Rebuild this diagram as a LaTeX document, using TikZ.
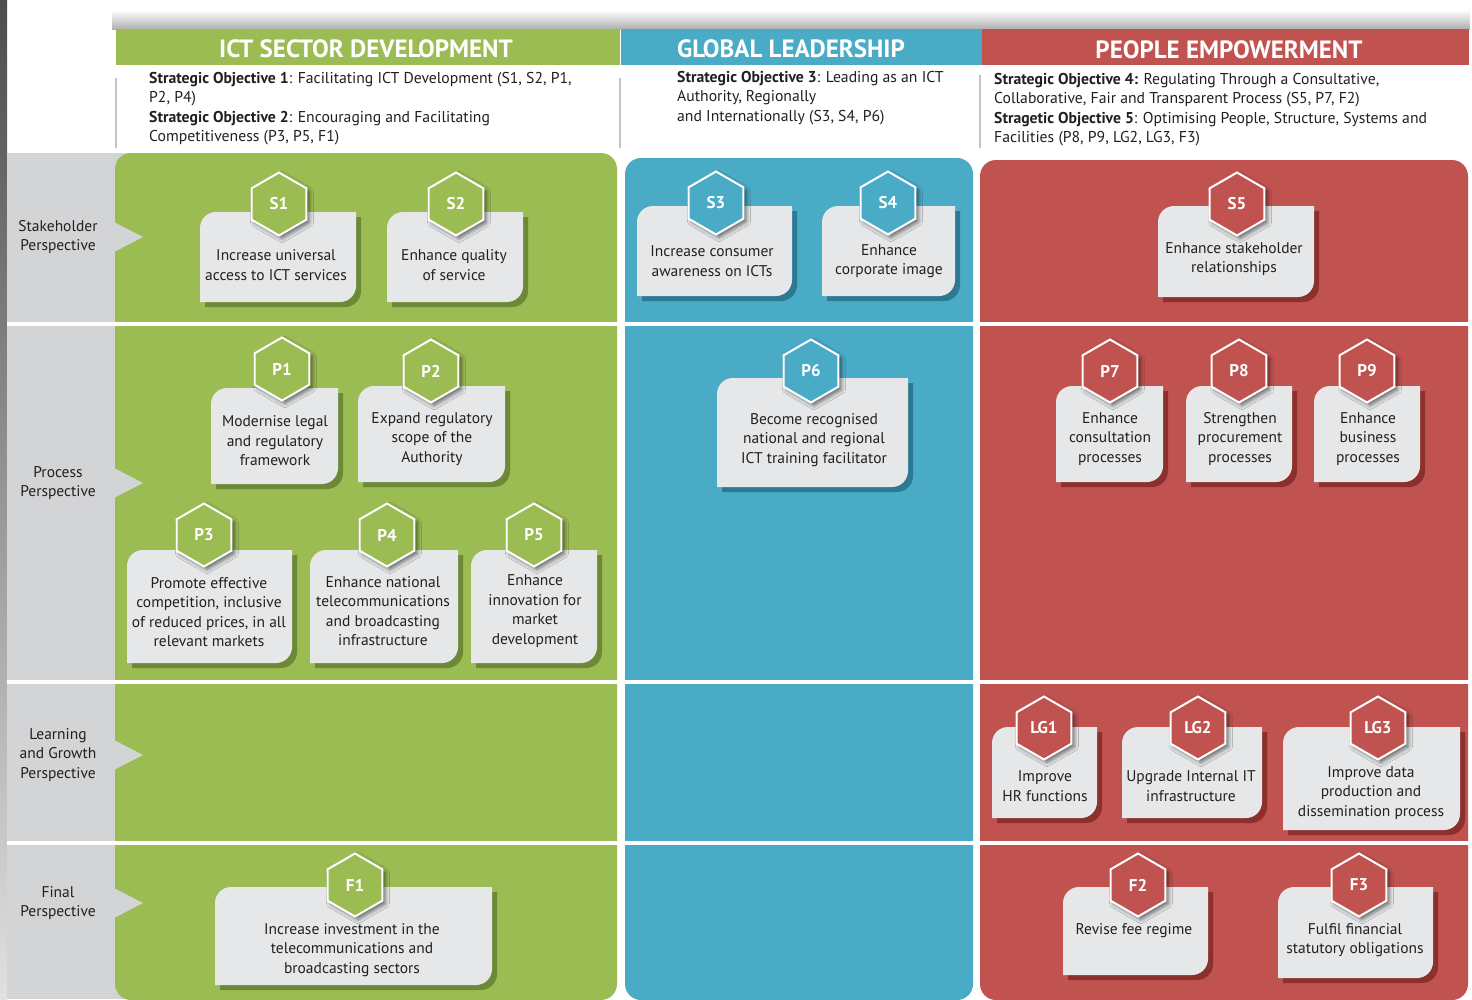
\documentclass[tikz,border=0pt]{standalone}
\usepackage{fontspec}
\setmainfont{PT Sans}
\usetikzlibrary{shapes.geometric,shadows.blur}

\definecolor{ictgreen}{RGB}{155,187,83}
\definecolor{ictgreendk}{RGB}{108,138,54}
\definecolor{glblue}{RGB}{74,171,198}
\definecolor{glbluedk}{RGB}{44,122,146}
\definecolor{pered}{RGB}{192,82,80}
\definecolor{pereddk}{RGB}{140,48,46}
\definecolor{sidegray}{RGB}{211,212,214}
\definecolor{cardgray}{RGB}{230,231,232}
\definecolor{ink}{RGB}{35,31,32}
\definecolor{rulegray}{RGB}{195,195,195}

% card with rounded top-left and bottom-right corners, plus a solid offset shadow
\newcommand{\cardbox}[5]{%
  \fill[#5] (#1+5,#4+5) -- (#1+5,#2+21) arc[start angle=180,end angle=90,radius=16pt]
    -- (#3+5,#2+5) -- (#3+5,#4-11) arc[start angle=0,end angle=-90,radius=16pt] -- cycle;
  \fill[cardgray] (#1,#4) -- (#1,#2+16) arc[start angle=180,end angle=90,radius=16pt]
    -- (#3,#2) -- (#3,#4-16) arc[start angle=0,end angle=-90,radius=16pt] -- cycle;
}

\tikzset{
  hexbase/.style={regular polygon, regular polygon sides=6, shape border rotate=30,
    minimum size=63pt, inner sep=0pt, draw=white, line width=2pt, text=white,
    font=\bfseries\fontsize{17}{17}\selectfont,
    blur shadow={shadow xshift=3pt, shadow yshift=-3pt, shadow blur radius=4pt, shadow opacity=55}},
  hexg/.style={hexbase, fill=ictgreen},
  hexb/.style={hexbase, fill=glblue},
  hexr/.style={hexbase, fill=pered},
  cardtext/.style={align=center, text=ink, inner sep=0pt, font=\fontsize{15.5}{19.5}\selectfont},
  sidelabel/.style={align=center, text=ink, inner sep=0pt, font=\fontsize{15.5}{19.5}\selectfont},
  objtext/.style={align=left, text=ink, inner sep=0pt, anchor=north west, font=\fontsize{15.7}{19.5}\selectfont},
  headtext/.style={text=white, inner sep=0pt, font=\bfseries\fontsize{25}{25}\selectfont},
  pointer/.style={fill=sidegray},
  objrule/.style={draw=rulegray, line width=1.2pt},
}

\begin{document}
\begin{tikzpicture}[x=1pt,y=-1pt]
\useasboundingbox (0,0) rectangle (1472,999);
\fill[white] (0,0) rectangle (1472,999);

% left edge strip
\shade[top color=black!70, bottom color=black!12] (0,0) rectangle (7,999);

% perspective column
\fill[sidegray] (7,153) rectangle (130,999);

% theme panels
\fill[ictgreen, rounded corners=16pt] (115,153) rectangle (617,1000);
\fill[glblue, rounded corners=16pt] (625,158) rectangle (973,1000);
\fill[pered, rounded corners=16pt] (980,160) rectangle (1468,1000);

% row separators
\fill[white] (7,322) rectangle (1472,326);
\fill[white] (7,680) rectangle (1472,684);
\fill[white] (7,841) rectangle (1472,845);

% pointers from perspective labels
\fill[pointer] (114,222) -- (143,237) -- (114,252) -- cycle;
\fill[pointer] (114,468) -- (143,483) -- (114,498) -- cycle;
\fill[pointer] (114,740) -- (143,755) -- (114,770) -- cycle;
\fill[pointer] (114,888) -- (143,903) -- (114,918) -- cycle;

\node[sidelabel] (stake) at (58,237) {Stakeholder\\Perspective};
\node[sidelabel] (proc) at (58,483) {Process\\Perspective};
\node[sidelabel] (learn) at (58,755) {Learning\\and Growth\\Perspective};
\node[sidelabel] (final) at (58,903) {Final\\Perspective};

% header bars with a soft shadow above them
\shade[top color=white, middle color=black!7, bottom color=black!32] (112,10) rectangle (1470,29.5);
\fill[ictgreen] (116,29) rectangle (620,65);
\fill[glblue] (621,29) rectangle (982,65);
\fill[pered] (982,29) rectangle (1469,65);
\node[headtext] (hict) at (366,49) {ICT SECTOR DEVELOPMENT};
\node[headtext] (hgl) at (791,49) {GLOBAL LEADERSHIP};
\node[headtext] (hpe) at (1229,50) {PEOPLE EMPOWERMENT};

% strategic objectives
\draw[objrule] (116,78) -- (116,148);
\draw[objrule] (620,78) -- (620,148);
\draw[objrule] (980,75) -- (980,148);
\node[objtext] (obj12) at (149,72) {\textbf{Strategic Objective 1}: Facilitating ICT Development (S1, S2, P1,\\P2, P4)\\\textbf{Strategic Objective 2}: Encouraging and Facilitating\\Competitiveness (P3, P5, F1)};
\node[objtext] (obj3) at (677,71) {\textbf{Strategic Objective 3}: Leading as an ICT\\Authority, Regionally\\and Internationally (S3, S4, P6)};
\node[objtext] (obj45) at (994,73) {\textbf{Strategic Objective 4:} Regulating Through a Consultative,\\Collaborative, Fair and Transparent Process (S5, P7, F2)\\\textbf{Stragetic Objective 5}: Optimising People, Structure, Systems and\\Facilities (P8, P9, LG2, LG3, F3)};

% ICT sector development objectives
\cardbox{200}{212}{356}{302}{ictgreendk}
\node[cardtext] (S1text) at (276,265) {Increase universal\\access to ICT services};
\node[hexg] (S1) at (279,204) {S1};

\cardbox{387}{212}{523}{302}{ictgreendk}
\node[cardtext] (S2text) at (454,265) {Enhance quality\\of service};
\node[hexg] (S2) at (456,204) {S2};

\cardbox{211}{388}{338}{484}{ictgreendk}
\node[cardtext] (P1text) at (275,441) {Modernise legal\\and regulatory\\framework};
\node[hexg] (P1) at (282,369) {P1};

\cardbox{358}{386}{505}{482}{ictgreendk}
\node[cardtext] (P2text) at (432,439) {Expand regulatory\\scope of the\\Authority};
\node[hexg] (P2) at (431,371) {P2};

\cardbox{127}{550}{292}{663}{ictgreendk}
\node[cardtext] (P3text) at (209,612) {Promote effective\\competition, inclusive\\of reduced prices, in all\\relevant markets};
\node[hexg] (P3) at (204,535) {P3};

\cardbox{310}{550}{458}{663}{ictgreendk}
\node[cardtext] (P4text) at (383,611) {Enhance national\\telecommunications\\and broadcasting\\infrastructure};
\node[hexg] (P4) at (387,535) {P4};

\cardbox{471}{550}{597}{663}{ictgreendk}
\node[cardtext] (P5text) at (535,611) {Enhance\\innovation for\\market\\development};
\node[hexg] (P5) at (534,535) {P5};

\cardbox{215}{887}{492}{985}{ictgreendk}
\node[cardtext] (F1text) at (352,950) {Increase investment in the\\telecommunications and\\broadcasting sectors};
\node[hexg] (F1) at (355,885) {F1};

% global leadership objectives
\cardbox{637}{206}{792}{296}{glbluedk}
\node[cardtext] (S3text) at (712,261) {Increase consumer\\awareness on ICTs};
\node[hexb] (S3) at (716,203) {S3};

\cardbox{822}{206}{955}{296}{glbluedk}
\node[cardtext] (S4text) at (889,261) {Enhance\\corporate image};
\node[hexb] (S4) at (888,203) {S4};

\cardbox{717}{378}{908}{487}{glbluedk}
\node[cardtext] (P6text) at (814,440) {Become recognised\\national and regional\\ICT training facilitator};
\node[hexb] (P6) at (811,371) {P6};

% people empowerment objectives
\cardbox{1158}{206}{1314}{297}{pereddk}
\node[cardtext] (S5text) at (1234,259) {Enhance stakeholder\\relationships};
\node[hexr] (S5) at (1237,204) {S5};

\cardbox{1056}{386}{1163}{482}{pereddk}
\node[cardtext] (P7text) at (1110,439) {Enhance\\consultation\\processes};
\node[hexr] (P7) at (1110,371) {P7};

\cardbox{1186}{386}{1292}{482}{pereddk}
\node[cardtext] (P8text) at (1240,439) {Strengthen\\procurement\\processes};
\node[hexr] (P8) at (1239,371) {P8};

\cardbox{1314}{386}{1420}{482}{pereddk}
\node[cardtext] (P9text) at (1368,439) {Enhance\\business\\processes};
\node[hexr] (P9) at (1367,371) {P9};

\cardbox{992}{727}{1097}{818}{pereddk}
\node[cardtext] (LG1text) at (1045,786) {Improve\\HR functions};
\node[hexr] (LG1) at (1044,728) {LG1};

\cardbox{1122}{727}{1262}{818}{pereddk}
\node[cardtext] (LG2text) at (1191,786) {Upgrade Internal IT\\infrastructure};
\node[hexr] (LG2) at (1198,728) {LG2};

\cardbox{1283}{727}{1460}{830}{pereddk}
\node[cardtext] (LG3text) at (1371,793) {Improve data\\production and\\dissemination process};
\node[hexr] (LG3) at (1378,728) {LG3};

\cardbox{1063}{887}{1208}{975}{pereddk}
\node[cardtext] (F2text) at (1134,931) {Revise fee regime};
\node[hexr] (F2) at (1138,885) {F2};

\cardbox{1278}{887}{1433}{978}{pereddk}
\node[cardtext] (F3text) at (1355,940) {Fulfil financial\\statutory obligations};
\node[hexr] (F3) at (1359,885) {F3};
\end{tikzpicture}
\end{document}
